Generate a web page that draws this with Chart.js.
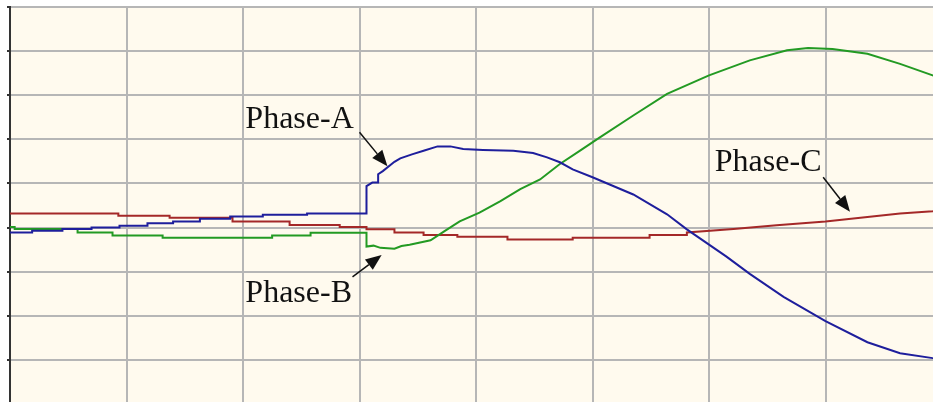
<!DOCTYPE html>
<html>
<head>
<meta charset="utf-8">
<script src="https://cdn.jsdelivr.net/npm/chart.js@4.4.0/dist/chart.umd.min.js"></script>
<style>
  html, body { margin: 0; padding: 0; background: #ffffff; overflow: hidden; }
  canvas { display: block; }
</style>
</head>
<body>
<canvas id="myChart" width="950" height="412"></canvas>
<script>
// time in grid divisions, current in divisions (0 = middle line)
var phaseA = [
  [0, -0.11], [0.19, -0.11], [0.19, -0.07], [0.45, -0.07], [0.45, -0.03], [0.7, -0.03],
  [0.7, 0.0], [0.94, 0.0], [0.94, 0.04], [1.18, 0.04], [1.18, 0.1], [1.4, 0.1],
  [1.4, 0.14], [1.63, 0.14], [1.63, 0.2], [1.89, 0.2], [1.89, 0.25], [2.17, 0.25],
  [2.17, 0.29], [2.55, 0.29], [2.55, 0.32], [3.06, 0.32], [3.06, 0.94], [3.11, 1.02],
  [3.16, 1.02], [3.16, 1.21], [3.2, 1.28], [3.3, 1.49], [3.35, 1.57], [3.45, 1.66],
  [3.55, 1.74], [3.67, 1.84], [3.78, 1.84], [3.89, 1.78], [4.06, 1.76], [4.32, 1.74],
  [4.49, 1.69], [4.61, 1.59], [4.72, 1.48], [4.83, 1.32], [5.0, 1.14], [5.35, 0.75],
  [5.64, 0.3], [5.81, -0.04], [6.15, -0.66], [6.35, -1.05], [6.64, -1.57], [7.0, -2.12],
  [7.36, -2.6], [7.64, -2.85], [7.92, -2.96], [8.0, -2.98]
];

var phaseB = [
  [0, 0.01], [0.04, 0.01], [0.04, -0.03], [0.58, -0.03], [0.58, -0.11], [0.88, -0.11],
  [0.88, -0.18], [1.31, -0.18], [1.31, -0.23], [2.25, -0.23], [2.25, -0.18], [2.58, -0.18],
  [2.58, -0.12], [3.06, -0.12], [3.06, -0.43], [3.12, -0.41], [3.18, -0.46], [3.3, -0.48],
  [3.36, -0.42], [3.43, -0.39], [3.61, -0.29], [3.73, -0.08], [3.86, 0.14], [4.03, 0.34],
  [4.21, 0.6], [4.38, 0.87], [4.55, 1.09], [4.72, 1.44], [4.89, 1.74], [5.06, 2.04],
  [5.35, 2.54], [5.64, 3.03], [6.0, 3.45], [6.35, 3.79], [6.67, 4.02], [6.85, 4.07],
  [7.06, 4.05], [7.36, 3.94], [7.64, 3.71], [7.92, 3.45], [8.0, 3.37]
];

var phaseC = [
  [0, 0.32], [0.93, 0.32], [0.93, 0.27], [1.37, 0.27], [1.37, 0.22], [1.91, 0.22],
  [1.91, 0.14], [2.4, 0.14], [2.4, 0.06], [2.83, 0.06], [2.83, 0.01], [3.06, 0.01],
  [3.06, -0.04], [3.3, -0.04], [3.3, -0.11], [3.55, -0.11], [3.55, -0.17], [3.84, -0.17],
  [3.84, -0.21], [4.27, -0.21], [4.27, -0.27], [4.83, -0.27], [4.83, -0.23], [5.49, -0.23],
  [5.49, -0.17], [5.81, -0.17], [5.81, -0.11], [6.21, -0.03], [6.58, 0.05], [7.0, 0.14],
  [7.36, 0.24], [7.64, 0.32], [7.92, 0.37], [8.0, 0.39]
];

var seriesNames = ["Phase-A", "Phase-B", "Phase-C"];
var seriesColors = ["#1e1e9c", "#239a23", "#a42828"];

// callout labels: text anchor and arrow (from -> to), in axis units
var callouts = [
  { text: "Phase-A", tx: 2.02, ty: 2.26, x0: 3.0, y0: 2.16, x1: 3.24, y1: 1.39 },
  { text: "Phase-B", tx: 2.02, ty: -1.69, x0: 2.94, y0: -1.12, x1: 3.19, y1: -0.62 },
  { text: "Phase-C", tx: 6.05, ty: 1.28, x0: 6.98, y0: 1.14, x1: 7.21, y1: 0.36 }
];

function toPoints(arr) {
  return arr.map(function (p) { return { x: p[0], y: p[1] }; });
}

var plotBg = {
  id: "plotBg",
  beforeDraw: function (chart) {
    var a = chart.chartArea;
    var ctx = chart.ctx;
    ctx.save();
    ctx.fillStyle = "#fffaee";
    ctx.fillRect(a.left, a.top, a.right - a.left, a.bottom - a.top);
    ctx.restore();
  }
};

var calloutPlugin = {
  id: "callouts",
  afterDatasetsDraw: function (chart) {
    var ctx = chart.ctx;
    var xs = chart.scales.x, ys = chart.scales.y;
    ctx.save();
    callouts.forEach(function (c) {
      ctx.fillStyle = "#111";
      ctx.font = "32px 'Liberation Serif', 'Times New Roman', serif";
      ctx.textBaseline = "alphabetic";
      ctx.textAlign = "left";
      ctx.fillText(c.text, xs.getPixelForValue(c.tx), ys.getPixelForValue(c.ty));

      var ax = xs.getPixelForValue(c.x0), ay = ys.getPixelForValue(c.y0);
      var bx = xs.getPixelForValue(c.x1), by = ys.getPixelForValue(c.y1);
      var ang = Math.atan2(by - ay, bx - ax);
      var head = 16, half = 6.5;
      ctx.strokeStyle = "#111";
      ctx.lineWidth = 1.5;
      ctx.beginPath();
      ctx.moveTo(ax, ay);
      ctx.lineTo(bx - Math.cos(ang) * head, by - Math.sin(ang) * head);
      ctx.stroke();
      ctx.beginPath();
      ctx.moveTo(bx, by);
      ctx.lineTo(bx - Math.cos(ang) * head - Math.sin(ang) * half, by - Math.sin(ang) * head + Math.cos(ang) * half);
      ctx.lineTo(bx - Math.cos(ang) * head + Math.sin(ang) * half, by - Math.sin(ang) * head - Math.cos(ang) * half);
      ctx.closePath();
      ctx.fill();
    });
    ctx.restore();
  }
};

var data = {
  datasets: [phaseA, phaseB, phaseC].map(function (arr, i) {
    return {
      label: seriesNames[i],
      data: toPoints(arr),
      borderColor: seriesColors[i],
      borderWidth: 2,
      pointRadius: 0,
      tension: 0,
      fill: false
    };
  })
};

var config = {
  type: "line",
  data: data,
  options: {
    responsive: false,
    animation: false,
    layout: { padding: { left: 7, top: 7, right: 8, bottom: 8 } },
    plugins: { legend: { display: false }, tooltip: { enabled: false } },
    scales: {
      x: {
        type: "linear",
        min: 0,
        max: 8,
        ticks: { display: false, stepSize: 1 },
        grid: { color: "#b6b6b6", lineWidth: 2, drawTicks: false },
        border: { display: false }
      },
      y: {
        min: -4,
        max: 5,
        ticks: { display: false, stepSize: 1 },
        grid: { color: "#b6b6b6", lineWidth: 2, drawTicks: true, tickLength: 3, tickColor: "#333" },
        border: { display: true, color: "#333", width: 2 }
      }
    }
  },
  plugins: [plotBg, calloutPlugin]
};

var myChart = new Chart(document.getElementById("myChart"), config);
</script>
</body>
</html>
